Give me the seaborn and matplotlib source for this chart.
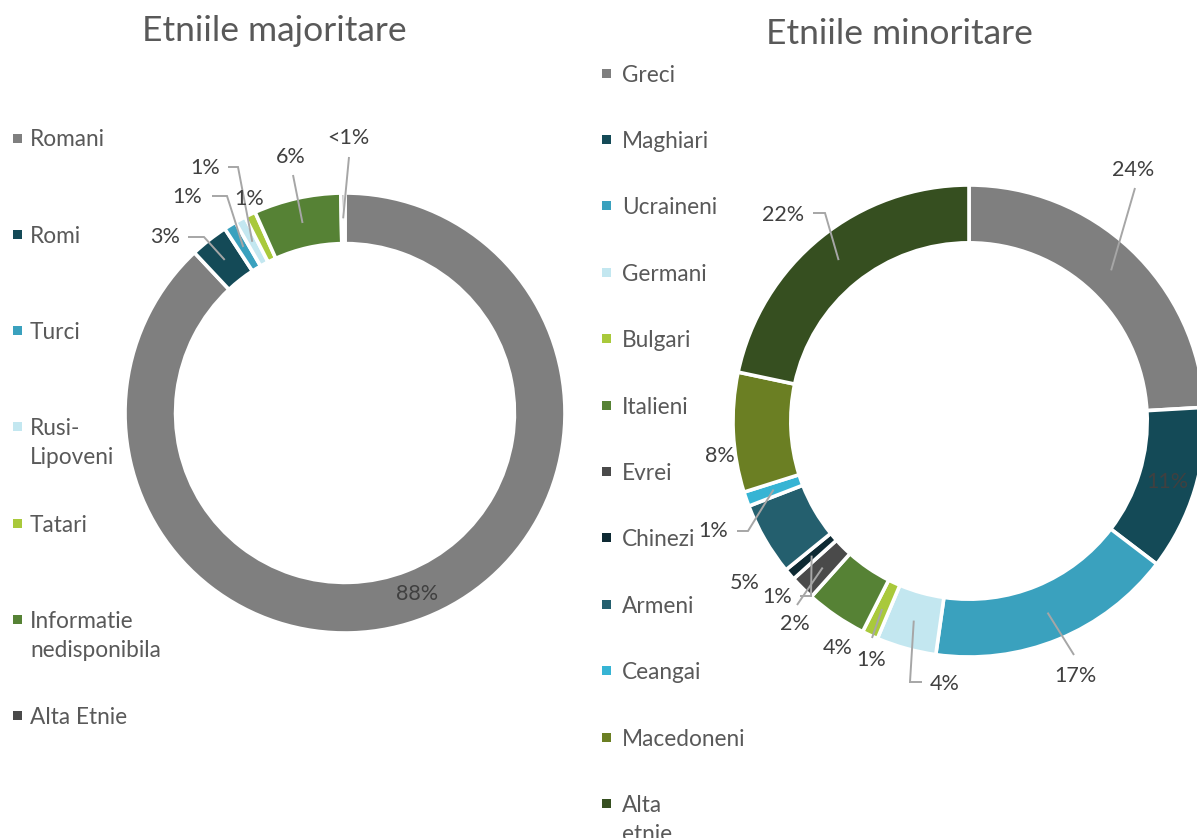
import numpy as np
import matplotlib
matplotlib.use("Agg")
import matplotlib.pyplot as plt
import seaborn as sns
from matplotlib.patches import Rectangle

# ---------------- data ----------------
maj_title = "Etniile majoritare"
maj_labels = ["Romani", "Romi", "Turci", "Rusi-\nLipoveni", "Tatari",
              "Informatie\nnedisponibila", "Alta Etnie"]
maj_values = [88.0, 2.8, 0.9, 0.8, 0.8, 6.4, 0.3]

min_title = "Etniile minoritare"
min_labels = ["Greci", "Maghiari", "Ucraineni", "Germani", "Bulgari", "Italieni",
              "Evrei", "Chinezi", "Armeni", "Ceangai", "Macedoneni", "Alta\netnie"]
min_values = [24.1, 11.3, 16.9, 4.1, 1.1, 4.2, 1.7, 0.8, 5.0, 1.0, 8.2, 21.7]

maj_colors = ["#7F7F7F", "#144A57", "#3AA1BE", "#C3E7F0", "#A9C93B", "#568235", "#4A4A4A"]
min_colors = ["#7F7F7F", "#144A57", "#3AA1BE", "#C3E7F0", "#A9C93B", "#568235",
              "#4A4A4A", "#0E2A33", "#245F6E", "#36B4D4", "#6B7F23", "#364F20"]

# ---------------- style ----------------
sns.set_theme(style="white")
plt.rcParams['font.family'] = ['Lato', 'DejaVu Sans']

W, H = 1197, 838
fig = plt.figure(figsize=(W / 100, H / 100), dpi=100)
fig.patch.set_facecolor("white")

TXT = "#595959"
LBL = "#404040"
LEAD = "#A6A6A6"


def fmt(v):
    return "<1%" if v < 0.5 else f"{int(round(v))}%"


def donut(cx, cy, R, width, values, colors, layout):
    ax = fig.add_axes([(cx - R) / W, (H - cy - R) / H, 2 * R / W, 2 * R / H])
    wedges, _ = ax.pie(values, colors=colors, startangle=90, counterclock=False,
                       radius=1,
                       wedgeprops=dict(width=width, edgecolor="white", linewidth=2.6))
    ax.set_xlim(-1, 1)
    ax.set_ylim(-1, 1)
    ax.set_aspect("equal")
    ax.axis("off")
    rmid = 1 - width / 2

    def p2d(px, py):
        return (px - cx) / R, (cy - py) / R

    for w, v, lay in zip(wedges, values, layout):
        th = np.deg2rad((w.theta1 + w.theta2) / 2)
        ax_, ay_ = rmid * np.cos(th), rmid * np.sin(th)
        if lay is None:
            ax.text(ax_, ay_, fmt(v), ha="center", va="center", fontsize=15.5,
                    color=LBL, clip_on=False)
            continue
        tpos, pts = lay
        tx, ty = p2d(*tpos)
        ax.text(tx, ty, fmt(v), ha="center", va="center", fontsize=15.5,
                color=LBL, clip_on=False)
        if pts:
            xs = [p2d(*p)[0] for p in pts] + [ax_]
            ys = [p2d(*p)[1] for p in pts] + [ay_]
            ax.plot(xs, ys, color=LEAD, lw=1.4, clip_on=False,
                    solid_capstyle="butt", solid_joinstyle="miter")
    return ax


maj_layout = [
    None,
    ((165, 237), [(188, 237), (204, 237)]),
    ((187, 197), [(212, 196), (227, 196)]),
    ((205, 168), [(228, 167), (238, 167)]),
    ((249, 199), []),
    ((291, 157), [(293, 175)]),
    ((348, 138), [(349, 157)]),
]
min_layout = [
    ((1133, 170), [(1135, 188)]),
    None,
    ((1075, 676), [(1074, 655)]),
    ((945, 684), [(922, 682), (910, 682)]),
    ((871, 660), [(872, 638)]),
    ((838, 648), []),
    ((795, 624), [(797, 605)]),
    ((777, 597), [(800, 596), (811, 596)]),
    ((745, 583), []),
    ((713, 531), [(737, 531), (748, 531)]),
    ((720, 456), []),
    ((783, 215), [(813, 213), (825, 213)]),
]

donut(345, 413, 220, 0.23, maj_values, maj_colors, maj_layout)
donut(969, 421, 236, 0.245, min_values, min_colors, min_layout)

# titles
fig.text(274 / W, 1 - 31 / H, maj_title, ha="center", va="center",
         fontsize=25.5, color=TXT)
fig.text(899 / W, 1 - 34 / H, min_title, ha="center", va="center",
         fontsize=25.5, color=TXT)


# legends
def legend(x_mark, x_text, y0, step, labels, colors, fs):
    for i, (lab, col) in enumerate(zip(labels, colors)):
        y = y0 + i * step
        s = 9
        fig.patches.append(Rectangle(((x_mark - s / 2) / W, 1 - (y + s / 2) / H),
                                     s / W, s / H, transform=fig.transFigure,
                                     facecolor=col, edgecolor="none"))
        for j, line in enumerate(lab.split("\n")):
            fig.text(x_text / W, 1 - (y + j * 29) / H, line, ha="left",
                     va="center_baseline", fontsize=fs, color=TXT)


legend(17, 30, 138, 96.3, maj_labels, maj_colors, 16.3)
legend(606, 622, 73, 66.4, min_labels, min_colors, 16.3)

fig.savefig("out.png", dpi=100, facecolor="white")
